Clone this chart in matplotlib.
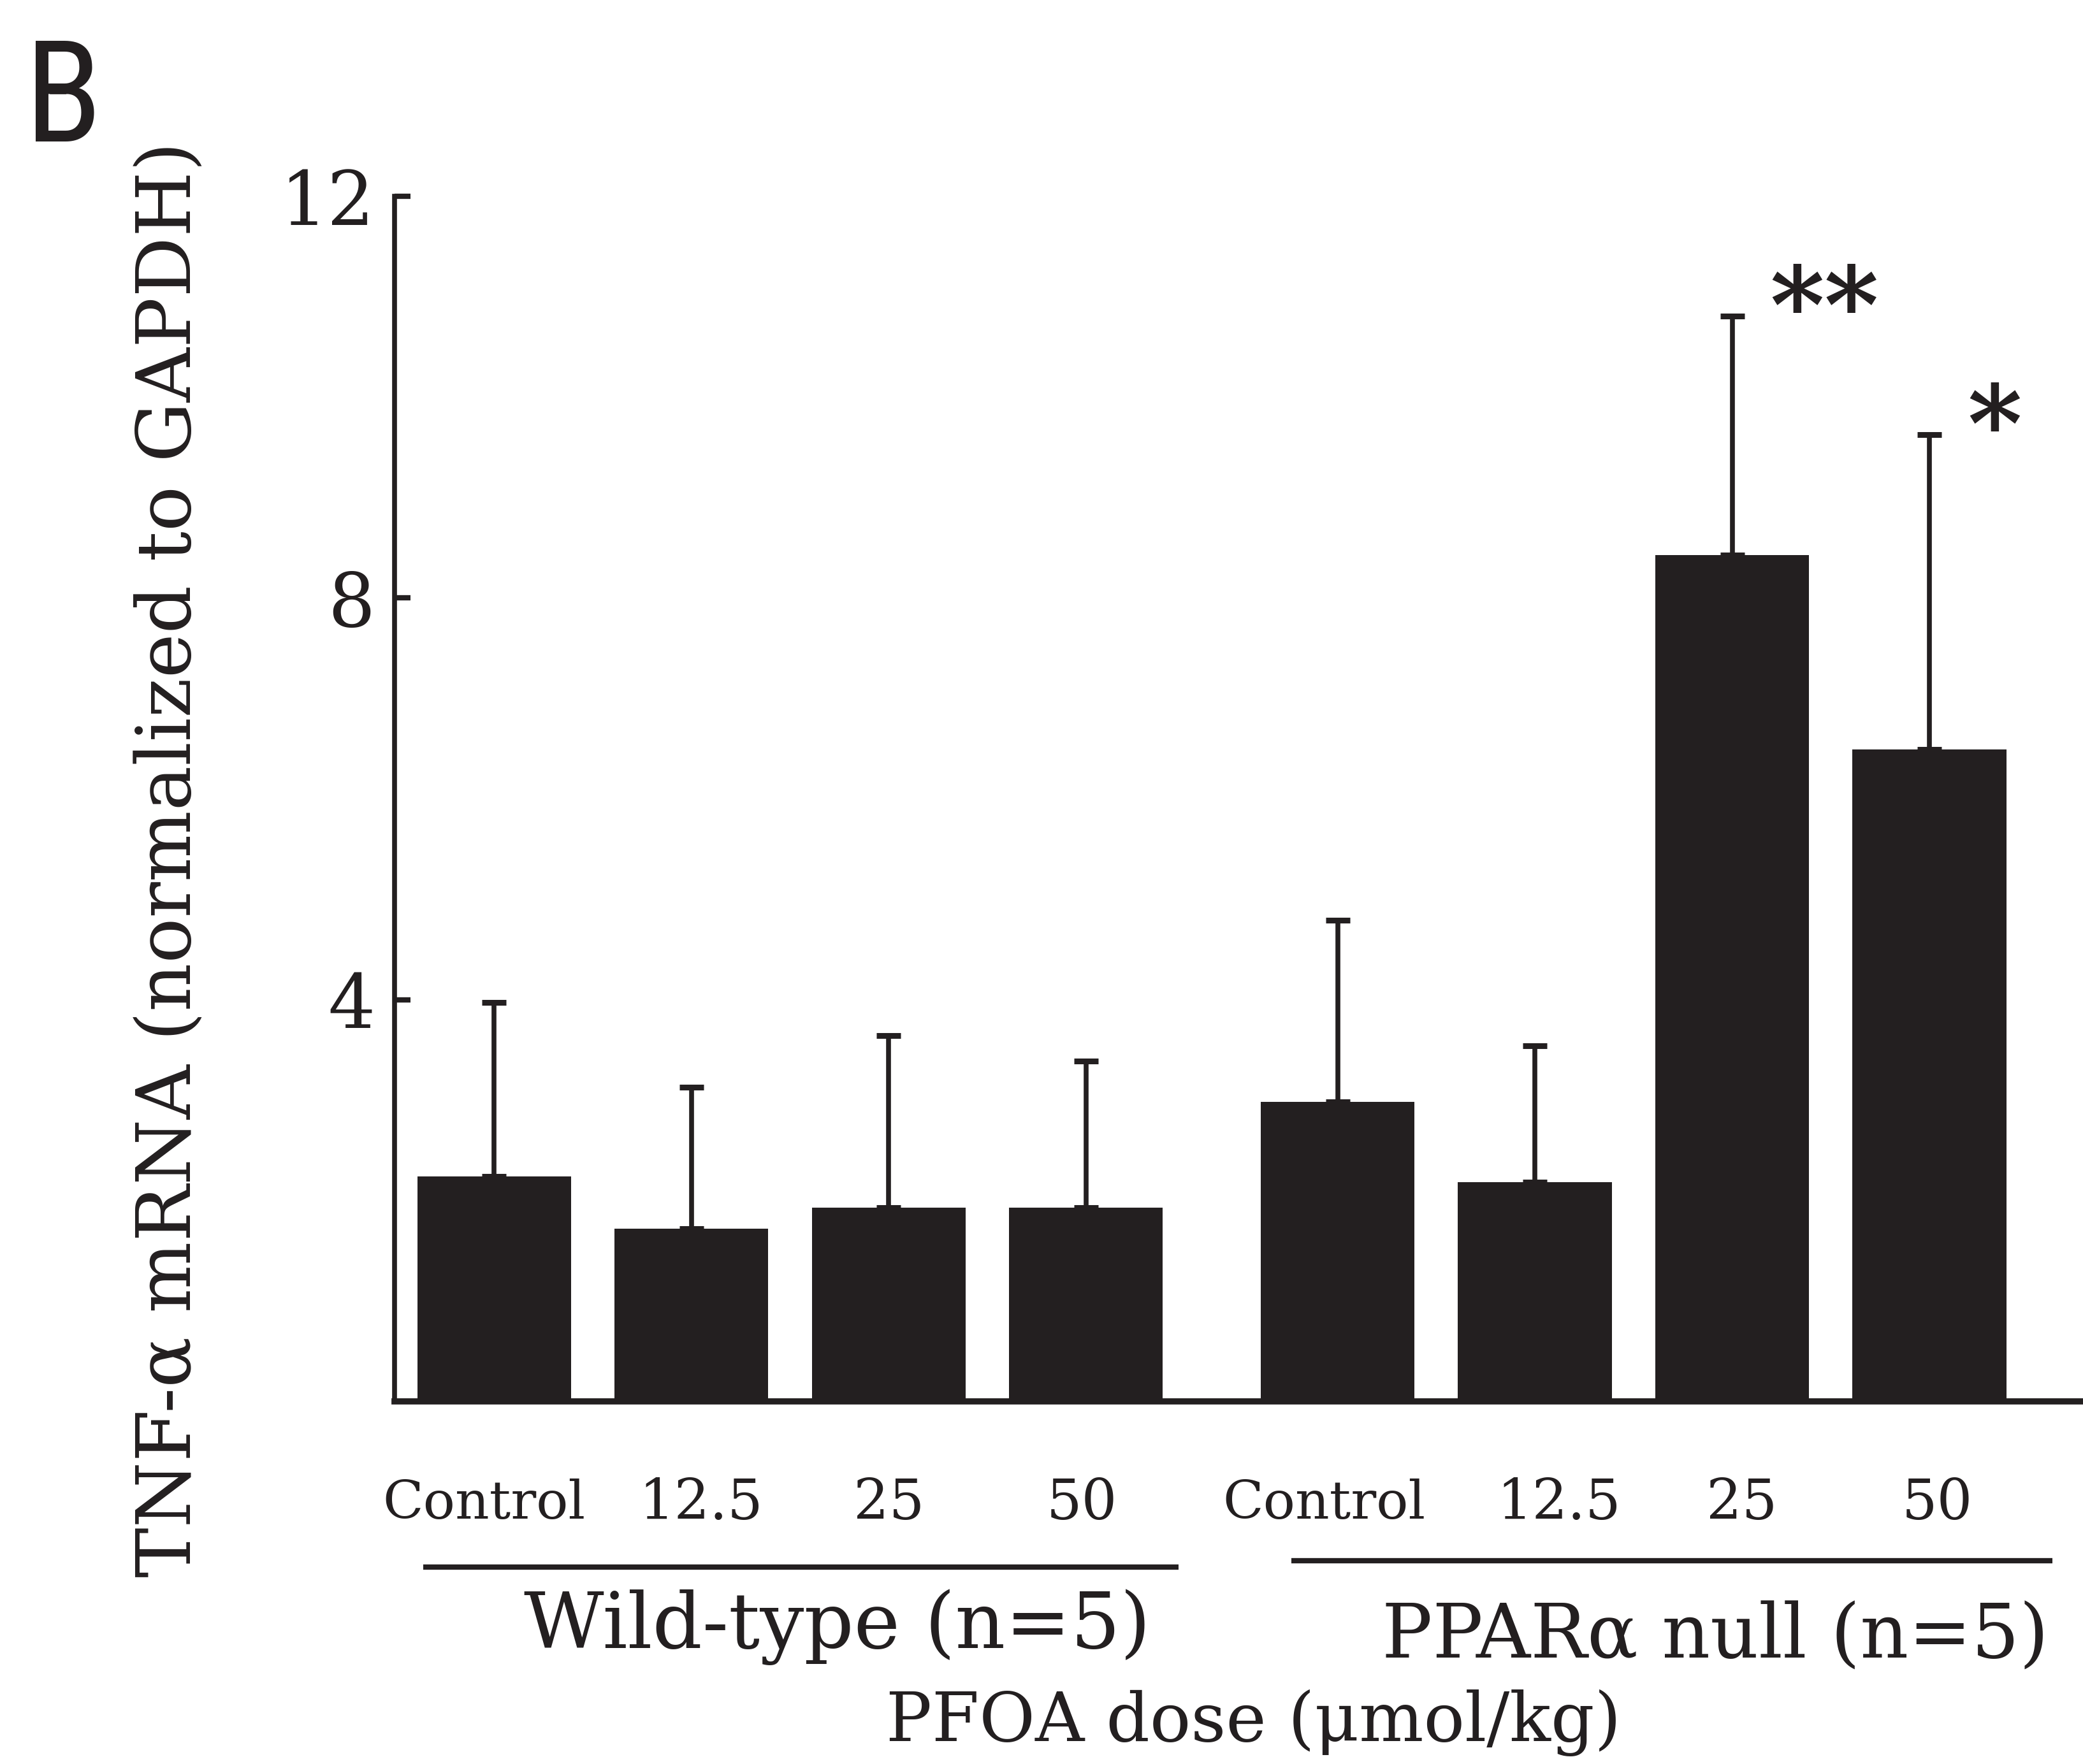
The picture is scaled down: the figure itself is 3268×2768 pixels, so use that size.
import numpy as np
import matplotlib
matplotlib.use("Agg")
import matplotlib.pyplot as plt

# data
doses = ['Control', '12.5', '25', '50']
groups = ['Wild-type (n=5)', 'PPARα null (n=5)']
wt_mean = [2.24, 1.72, 1.93, 1.93]
wt_sd = [1.73, 1.41, 1.71, 1.46]
null_mean = [2.98, 2.18, 8.43, 6.49]
null_sd = [1.81, 1.36, 2.38, 3.14]
stars = ['', '', '', '', '', '', '**', '*']

means = wt_mean + null_mean
sds = wt_sd + null_sd
labels = doses + doses

plt.rcParams['font.family'] = ['DejaVu Serif']
ink = '#231f20'

fig = plt.figure(figsize=(32.68, 27.68), dpi=100)
ax = fig.add_axes([0.1894, 0.2056, 0.8106, 0.6831])

gap = 1.276  # distance between the two groups
x = np.array([0, 1, 2, 3, 3 + gap, 4 + gap, 5 + gap, 6 + gap])
ax.bar(x, means, width=0.78, color=ink, zorder=2)
ax.errorbar(x, means, yerr=[np.zeros(len(sds)), sds], fmt='none', ecolor=ink,
            elinewidth=5.5, capsize=14, capthick=6.5, zorder=1, clip_on=False)

ax.set_xlim(-0.505, 8.054)
ax.set_ylim(0, 12)
ax.set_yticks([4, 8, 12])
ax.set_xticks([])
for s in ['top', 'right']:
    ax.spines[s].set_visible(False)
ax.spines['left'].set_linewidth(5.5)
ax.spines['bottom'].set_linewidth(7)
ax.spines['left'].set_color(ink)
ax.spines['bottom'].set_color(ink)
ax.tick_params(axis='y', direction='in', length=18, width=6, color=ink,
               labelsize=84, pad=22, labelcolor=ink)

# dose labels under each bar (slight shifts as in the original)
shift = [-0.05, 0.05, 0, -0.02, -0.07, 0.12, 0.05, 0.04]
for xi, dx, lab in zip(x, shift, labels):
    fs = 60 if lab == 'Control' else 63
    ax.text(xi + dx, -1.02, lab, ha='center', va='center', fontsize=fs, color=ink)

# significance marks
for xi, m, s, st in zip(x, means, sds, stars):
    if st:
        ax.text(xi + 0.19, m + s - 0.48, st, ha='left', va='bottom',
                fontsize=118, fontweight='bold', color=ink)

# group bars and names
ax.plot([-0.36, 3.47], [-1.65, -1.65], color=ink, lw=6, clip_on=False,
        solid_capstyle='butt')
ax.plot([4.04, 7.90], [-1.59, -1.59], color=ink, lw=6, clip_on=False,
        solid_capstyle='butt')
ax.text(1.74, -2.25, groups[0], ha='center', va='center', fontsize=88, color=ink)
ax.text(6.19, -2.35, groups[1], ha='center', va='center', fontsize=85, color=ink)
ax.text(3.85, -3.2, 'PFOA dose (μmol/kg)', ha='center', va='center',
        fontsize=77, color=ink)

fig.text(0.0817, 0.5127, 'TNF-α mRNA (normalized to GAPDH)', rotation=90,
         ha='center', va='center', fontsize=85, color=ink)
fig.text(0.012, 0.98, 'B', ha='left', va='top', fontsize=160, color=ink,
         family=['Liberation Sans Narrow', 'Roboto Condensed', 'DejaVu Sans'])

fig.savefig('out.png', dpi=100, facecolor='white')
